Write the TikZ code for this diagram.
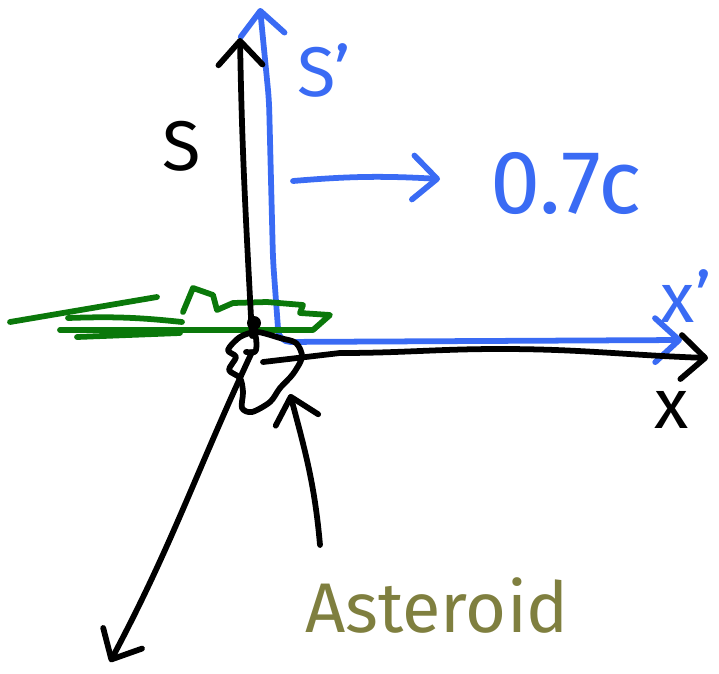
\documentclass[tikz,border=0pt]{standalone}
\usepackage{fontspec}
\setmainfont{Fira Sans}
\usetikzlibrary{arrows.meta}
\definecolor{penblue}{HTML}{3A6BF4}
\definecolor{pengreen}{HTML}{0A780A}
\definecolor{penolive}{HTML}{7F7F3F}

\begin{document}
\begin{tikzpicture}[x=0.25mm, y=-0.25mm]
  \tikzset{
    pen/.style={line width=4.1pt, line cap=round, line join=round},
    barb/.style={pen, -{Straight Barb[length=6mm, width=11mm, round]}},
    hand/.style={font=\fontsize{50}{58}\selectfont, inner sep=0pt}
  }
  \useasboundingbox (0,0) rectangle (719,674);

  % frame S' (moving)
  \coordinate (sPTop) at (260,8);
  \coordinate (corner) at (279,342);
  \coordinate (xPEnd) at (682,340);
  \draw[pen, penblue, {Straight Barb[length=6mm, width=11mm, round]}-{Straight Barb[length=6mm, width=11mm, round]}, rounded corners=8]
    (sPTop) -- (269,100) -- (273,260) -- (corner) -- (xPEnd);
  \coordinate (vTail) at (293,181);
  \coordinate (vTip) at (440,179);
  \draw[barb, penblue] (vTail) to[bend left=4] (vTip);

  % the ship
  \draw[pen, pengreen] (10,322) -- (157,297);
  \draw[pen, pengreen] (68,318) to[bend left=4] (182,322);
  \draw[pen, pengreen] (60,330) -- (182,330);
  \draw[pen, pengreen] (77,337) -- (180,333);
  \draw[pen, pengreen] (183,312) -- (193,288) -- (213,295) -- (217,310) -- (233,303)
    -- (267,302) -- (303,305) -- (300,313) -- (330,315) -- (313,330) -- (182,330);

  % frame S (rest)
  \coordinate (O) at (252,336);
  \coordinate (sTop) at (240,38);
  \coordinate (xStart) at (263,362);
  \coordinate (xEnd) at (708,358);
  \coordinate (yStart) at (252,352);
  \coordinate (yEnd) at (110,662);
  \draw[barb] (O) to[out=93, in=-89] (sTop);
  \draw[barb] (xStart) -- (340,353) to[out=0, in=180] (500,349) to[out=0, in=178] (xEnd);
  \draw[barb] (yStart) to[out=-115, in=62] (yEnd);
  \fill (254,323) circle (7);

  % asteroid
  \draw[pen] plot[smooth cycle, tension=0.5] coordinates {(257,332) (240,337) (228,350) (236,357)
    (229,370) (240,378) (243,392) (242,408) (252,412) (270,402) (280,388) (293,374)
    (302,357) (296,343) (280,338)};
  \draw[pen] (254,328) to[out=-80, in=80] (256,350) to[out=-100, in=0] (246,352);
  \coordinate (aTail) at (320,545);
  \coordinate (aTip) at (290,394);
  \draw[barb] (aTail) to[out=95, in=-75] (aTip);

  % labels
  \node[hand] (lblS) at (182,146) {S};
  \node[hand, penblue] (lblSP) at (324,70) {S'};
  \node[hand, penblue, font=\fontsize{64}{70}\selectfont] (lblV) at (566,183) {0.7c};
  \node[hand, penblue] (lblXP) at (686,296) {x'};
  \node[hand] (lblX) at (672,410) {x};
  \node[hand, penolive] (lblAst) at (437,606) {Asteroid};
\end{tikzpicture}
\end{document}
